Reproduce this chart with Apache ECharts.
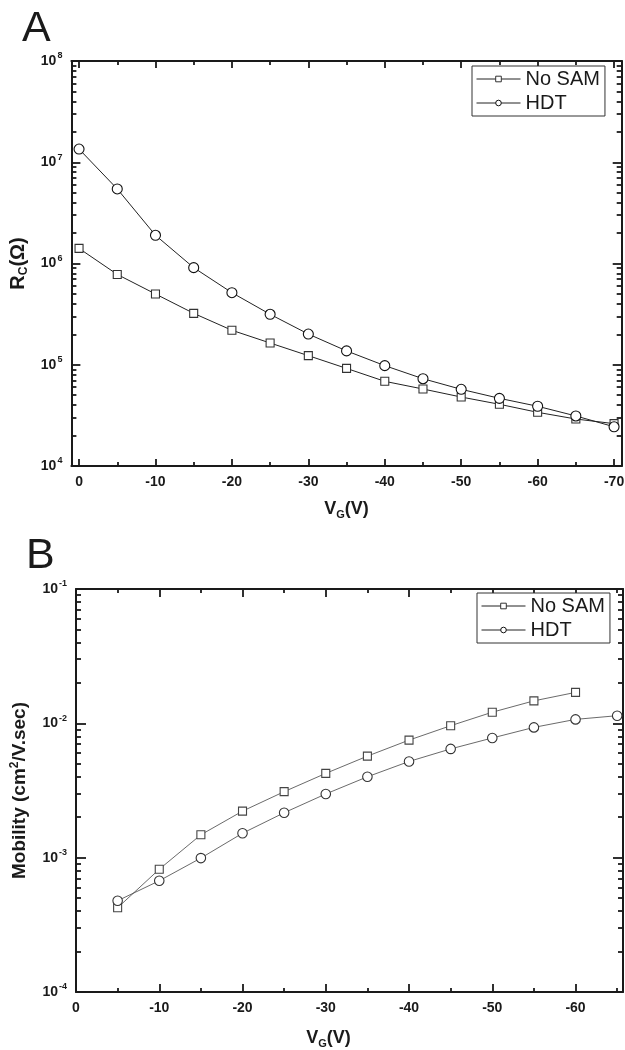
<!DOCTYPE html>
<html><head><meta charset="utf-8">
<script src="https://cdn.jsdelivr.net/npm/echarts@6/dist/echarts.min.js"></script>
<style>html,body{margin:0;padding:0;background:#fff}#c{width:625px;height:1050px}</style>
</head><body><div id="c"></div><script>
// ---- Panel A data: contact resistance vs gate voltage ----
const vgA = [0, -5, -10, -15, -20, -25, -30, -35, -40, -45, -50, -55, -60, -65, -70];
const rcNoSAM = [1.41e6, 7.8e5, 5.0e5, 3.22e5, 2.19e5, 1.64e5, 1.23e5, 9.2e4, 6.86e4, 5.76e4, 4.8e4, 4.07e4, 3.39e4, 2.91e4, 2.62e4];
const rcHDT = [1.35e7, 5.45e6, 1.9e6, 9.1e5, 5.15e5, 3.15e5, 2.01e5, 1.37e5, 9.8e4, 7.28e4, 5.72e4, 4.66e4, 3.89e4, 3.12e4, 2.44e4];
// ---- Panel B data: mobility vs gate voltage ----
const vgBNoSAM = [-5, -10, -15, -20, -25, -30, -35, -40, -45, -50, -55, -60];
const muNoSAM = [4.24e-4, 8.2e-4, 1.48e-3, 2.22e-3, 3.1e-3, 4.24e-3, 5.7e-3, 7.5e-3, 9.6e-3, 1.21e-2, 1.47e-2, 1.70e-2];
const vgBHDT = [-5, -10, -15, -20, -25, -30, -35, -40, -45, -50, -55, -60, -65];
const muHDT = [4.78e-4, 6.73e-4, 9.93e-4, 1.52e-3, 2.16e-3, 2.98e-3, 4.0e-3, 5.2e-3, 6.45e-3, 7.78e-3, 9.33e-3, 1.07e-2, 1.14e-2];
// ---- ticks ----
const xMajorA = [0, -10, -20, -30, -40, -50, -60, -70];
const xMinorA = [-5, -15, -25, -35, -45, -55, -65];
const xMajorB = [0, -10, -20, -30, -40, -50, -60];
const xMinorB = [-5, -15, -25, -35, -45, -55, -65];
const yMajorA = [1e4, 1e5, 1e6, 1e7, 1e8];
const yMajorB = [1e-4, 1e-3, 1e-2, 1e-1];
const seriesNames = ['No SAM', 'HDT'];

function minorLog(majors) {
  const out = [];
  for (let i = 0; i < majors.length - 1; i++) {
    for (let k = 2; k <= 9; k++) out.push(+(majors[i] * k).toPrecision(3));
  }
  return out;
}
const zip = (a, b) => a.map((v, i) => [v, b[i]]);

const FONT = "'Liberation Sans', Arial, sans-serif";
const INK = '#1a1a1a';

function xAx(grid, min, max, pos, vals, len, line, labels, name, nameGap, namePad) {
  return {
    type: 'value', gridIndex: grid, position: pos, min: min, max: max, inverse: true,
    axisLine: { show: line, onZero: false, lineStyle: { color: INK, width: 2 } },
    axisTick: { show: true, inside: true, length: len, customValues: vals, lineStyle: { color: INK, width: 1.8 } },
    axisLabel: { show: labels, customValues: vals, margin: 9, color: INK, fontFamily: FONT, fontWeight: 'bold', fontSize: 14 },
    splitLine: { show: false },
    name: name || '', nameLocation: 'middle', nameGap: nameGap || 0,
    nameTextStyle: {
      color: INK, fontFamily: FONT, fontWeight: 'bold', fontSize: 18, padding: namePad || 0,
      rich: {
        v: { fontFamily: FONT, fontWeight: 'bold', fontSize: 18, color: INK },
        sub: { fontFamily: FONT, fontWeight: 'bold', fontSize: 11, color: INK, padding: [11, 0, 0, 0] }
      }
    }
  };
}
function yAx(grid, min, max, pos, vals, len, line, labels, name, nameGap, nameSize) {
  return {
    type: 'log', logBase: 10, gridIndex: grid, position: pos, min: min, max: max,
    axisLine: { show: line, onZero: false, lineStyle: { color: INK, width: 2 } },
    axisTick: { show: true, inside: true, length: len, customValues: vals, lineStyle: { color: INK, width: 1.8 } },
    axisLabel: {
      show: labels, customValues: vals, margin: 9,
      formatter: v => '{b|10}{s|' + Math.round(Math.log10(v)) + '}',
      rich: {
        b: { fontFamily: FONT, fontWeight: 'bold', fontSize: 14, color: INK },
        s: { fontFamily: FONT, fontWeight: 'bold', fontSize: 9, color: INK, padding: [0, 0, 10, 1] }
      }
    },
    splitLine: { show: false },
    name: name || '', nameLocation: 'middle', nameGap: nameGap || 0,
    nameTextStyle: {
      color: INK, fontFamily: FONT, fontWeight: 'bold', fontSize: nameSize || 18,
      rich: {
        r: { fontFamily: FONT, fontWeight: 'bold', fontSize: nameSize || 18, color: INK },
        sub: { fontFamily: FONT, fontWeight: 'bold', fontSize: 12, color: INK, padding: [11, 0, 0, 0] },
        sup: { fontFamily: FONT, fontWeight: 'bold', fontSize: 12, color: INK, padding: [0, 0, 10, 0] }
      }
    }
  };
}

const xAxes = [
  xAx(0, -71, 1, 'bottom', xMajorA, 7, true, true, '{v|V}{sub|G}{v|(V)}', 32),
  xAx(0, -71, 1, 'bottom', xMinorA, 4, false, false),
  xAx(0, -71, 1, 'top', xMajorA, 7, true, false),
  xAx(0, -71, 1, 'top', xMinorA, 4, false, false),
  xAx(1, -65.7, 0, 'bottom', xMajorB, 8, true, true, '{v|V}{sub|G}{v|(V)}', 35, [0, 42, 0, 0]),
  xAx(1, -65.7, 0, 'bottom', xMinorB, 4, false, false),
  xAx(1, -65.7, 0, 'top', xMajorB, 8, true, false),
  xAx(1, -65.7, 0, 'top', xMinorB, 4, false, false)
];
const yAxes = [
  yAx(0, 1e4, 1e8, 'left', yMajorA, 9, true, true, '{r|R}{sub|C}{r|(Ω)}', 33, 20),
  yAx(0, 1e4, 1e8, 'left', minorLog(yMajorA), 5, false, false),
  yAx(0, 1e4, 1e8, 'right', yMajorA, 9, true, false),
  yAx(0, 1e4, 1e8, 'right', minorLog(yMajorA), 5, false, false),
  yAx(1, 1e-4, 1e-1, 'left', yMajorB, 10, true, true, 'Mobility (cm{sup|2}/V.sec)', 45, 19),
  yAx(1, 1e-4, 1e-1, 'left', minorLog(yMajorB), 5, false, false),
  yAx(1, 1e-4, 1e-1, 'right', yMajorB, 10, true, false),
  yAx(1, 1e-4, 1e-1, 'right', minorLog(yMajorB), 5, false, false)
];

function mkSeries(name, xi, yi, data, symbol, size, lineColor, lineWidth, border) {
  return {
    name: name, type: 'line', xAxisIndex: xi, yAxisIndex: yi, data: data,
    symbol: symbol, symbolSize: size, showAllSymbol: true, clip: false,
    lineStyle: { color: lineColor, width: lineWidth },
    itemStyle: { color: '#fff', borderColor: border, borderWidth: 1.1 },
    emphasis: { disabled: true }, z: 3
  };
}

const legendBase = {
  orient: 'vertical', data: seriesNames, borderColor: '#333', borderWidth: 1,
  backgroundColor: '#fff', padding: [3, 5, 3, 4], itemGap: 4, itemWidth: 44, itemHeight: 7,
  lineStyle: { width: 1 }, itemStyle: { borderWidth: 1 },
  textStyle: { fontFamily: FONT, fontSize: 20, color: INK },
  selectedMode: false
};

const option = {
  animation: false,
  backgroundColor: '#fff',
  title: [
    { text: 'A', left: 22, top: 8, padding: 0, textStyle: { fontFamily: FONT, fontSize: 43, fontWeight: 'normal', color: INK } },
    { text: 'B', left: 26, top: 535, padding: 0, textStyle: { fontFamily: FONT, fontSize: 43, fontWeight: 'normal', color: INK } }
  ],
  legend: [
    Object.assign({}, legendBase, { left: 472, top: 66 }),
    Object.assign({}, legendBase, { left: 477, top: 593 })
  ],
  grid: [
    { left: 71.4, top: 61, width: 550.3, height: 405, containLabel: false, outerBoundsMode: 'none' },
    { left: 76, top: 589, width: 547, height: 403, containLabel: false, outerBoundsMode: 'none' }
  ],
  xAxis: xAxes,
  yAxis: yAxes,
  series: [
    mkSeries('No SAM', 0, 0, zip(vgA, rcNoSAM), 'rect', 8, '#222', 1, '#333'),
    mkSeries('HDT', 0, 0, zip(vgA, rcHDT), 'circle', 10, '#222', 1, '#111'),
    mkSeries('No SAM', 4, 4, zip(vgBNoSAM, muNoSAM), 'rect', 8, '#444', 0.8, '#444'),
    mkSeries('HDT', 4, 4, zip(vgBHDT, muHDT), 'circle', 9.5, '#444', 0.8, '#333')
  ]
};
const chart = echarts.init(document.getElementById('c'), null, { renderer: 'canvas' });
chart.setOption(option);
</script></body></html>
